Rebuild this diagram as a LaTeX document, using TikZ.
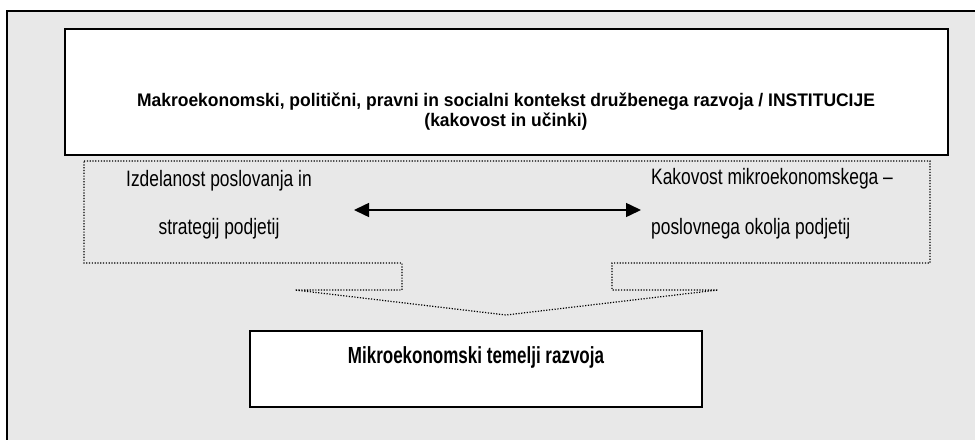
\documentclass[tikz,border=0pt]{standalone}
\usepackage{fontspec}
\setmainfont[FakeStretch=0.78]{Liberation Sans}
\newfontfamily\topfont[FakeStretch=0.96]{Liberation Sans}
\newfontfamily\botfont[FakeStretch=0.73]{Liberation Sans}
\usetikzlibrary{arrows.meta}

\begin{document}
\begin{tikzpicture}[x=1pt,y=1pt,
  framebox/.style={draw,line width=1.5pt,fill=white},
  dotline/.style={line width=1.2pt,dash pattern=on 1.2pt off 1.6pt},
  plain/.style={font=\fontsize{22.3}{26}\selectfont,inner sep=0pt,anchor=base},
  boldtop/.style={font=\topfont\fontsize{18.2}{21}\selectfont\bfseries,inner sep=0pt,anchor=base},
  boldbot/.style={font=\botfont\fontsize{23.3}{27}\selectfont\bfseries,inner sep=0pt,anchor=base}]
\useasboundingbox (0,0) rectangle (975,440);
% background panel
\fill[black!9] (7,0) rectangle (975,429);
\draw[line width=1.5pt] (975,429) -- (7,429) -- (7,0);
% top box
\draw[framebox] (65,285) rectangle (948,411);
\node[boldtop] (M0) at (506,333) {Makroekonomski, politični, pravni in socialni kontekst družbenega razvoja / INSTITUCIJE};
\node[boldtop] (M1) at (506,313) {(kakovost in učinki)};
% dotted arrow shape
\draw[dotline] (84,279) -- (930,279) -- (930,177) -- (612,177) -- (612,150)
  -- (718,150) -- (506,125) -- (295,150) -- (402,150) -- (402,177) -- (84,177) -- cycle;
\node[plain] (L0) at (219,254) {Izdelanost poslovanja in};
\node[plain] (L1) at (219,206) {strategij podjetij};
\node[plain,anchor=base west] (R0) at (651,255) {Kakovost mikroekonomskega –};
\node[plain,anchor=base west] (R1) at (651,206) {poslovnega okolja podjetij};
\coordinate (A0) at (354,230);
\coordinate (A1) at (641,230);
\draw[line width=1.5pt,{Triangle[length=15pt,width=14pt]}-{Triangle[length=15pt,width=14pt]}] (A0) -- (A1);
% bottom box
\draw[framebox] (250,33) rectangle (702,109);
\node[boldbot] (B0) at (476,77) {Mikroekonomski temelji razvoja};
\end{tikzpicture}
\end{document}
